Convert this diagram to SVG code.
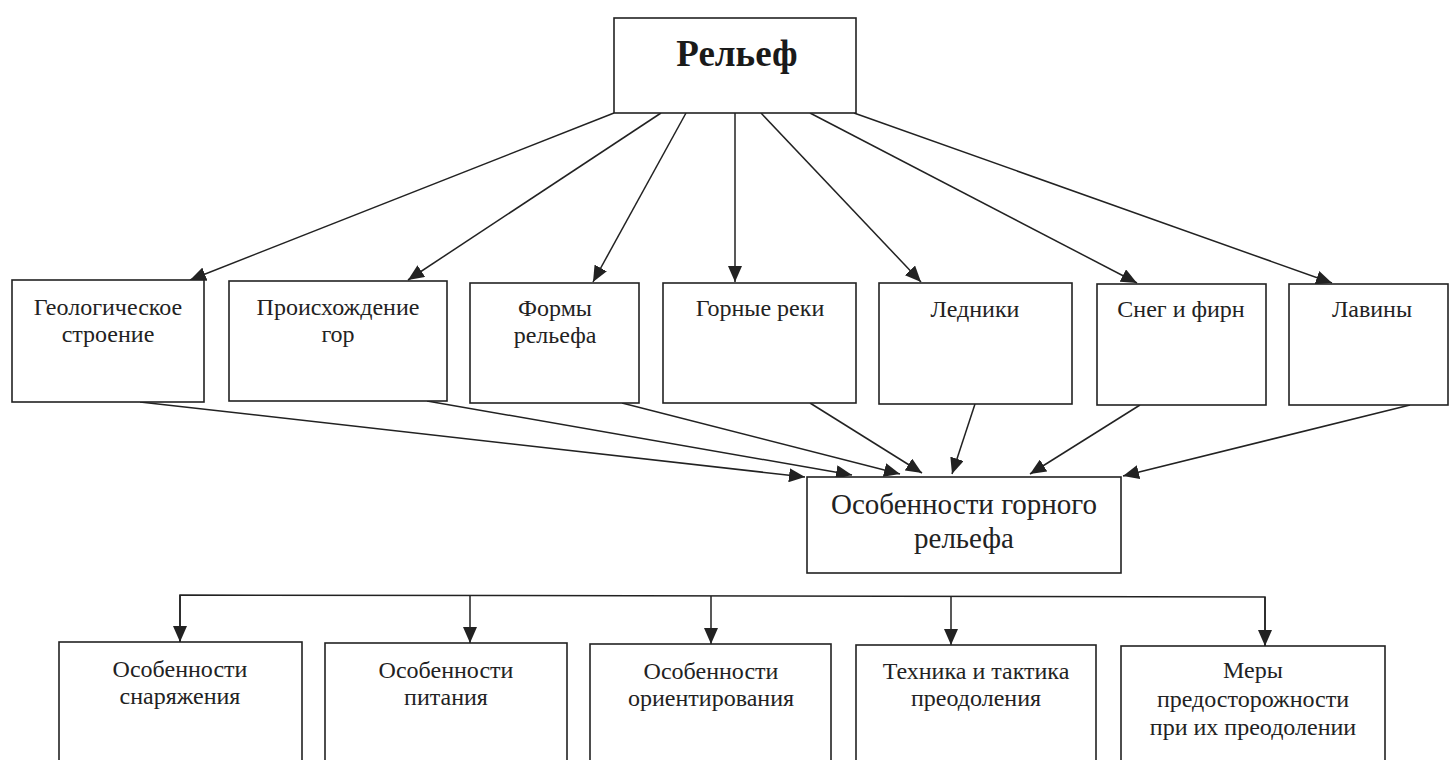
<svg xmlns="http://www.w3.org/2000/svg" width="1450" height="760" viewBox="0 0 1450 760">
<style>
.box{fill:#fff;stroke:#222;stroke-width:1.6}
.t{font-family:"Liberation Serif","Times New Roman",serif;font-size:24px;fill:#222;text-anchor:middle}
.tc{font-family:"Liberation Serif","Times New Roman",serif;font-size:29px;fill:#222;text-anchor:middle}
.tb{font-family:"Liberation Serif","Times New Roman",serif;font-size:37px;font-weight:bold;fill:#1a1a1a;text-anchor:middle}
.c{fill:none;stroke:#222;stroke-width:1.5}
</style>
<defs>
<marker id="ah" markerUnits="userSpaceOnUse" markerWidth="17" markerHeight="14" refX="16" refY="7" orient="auto">
<path d="M0,0 L16,7 L0,14 z" fill="#222"/>
</marker>
</defs>
<rect width="1450" height="760" fill="#fff"/>
<g id="connectors">
<line class="c" x1="614" y1="113" x2="190" y2="280" marker-end="url(#ah)"/>
<line class="c" x1="661" y1="113" x2="408" y2="280" marker-end="url(#ah)"/>
<line class="c" x1="686" y1="113" x2="593" y2="282" marker-end="url(#ah)"/>
<line class="c" x1="735" y1="113" x2="735" y2="282" marker-end="url(#ah)"/>
<line class="c" x1="761" y1="113" x2="921" y2="282" marker-end="url(#ah)"/>
<line class="c" x1="810" y1="113" x2="1137" y2="283" marker-end="url(#ah)"/>
<line class="c" x1="854" y1="113" x2="1332" y2="283" marker-end="url(#ah)"/>
<line class="c" x1="140" y1="402" x2="805" y2="477" marker-end="url(#ah)"/>
<line class="c" x1="427" y1="401" x2="852" y2="475" marker-end="url(#ah)"/>
<line class="c" x1="622" y1="403" x2="900" y2="474" marker-end="url(#ah)"/>
<line class="c" x1="810" y1="403" x2="922" y2="473" marker-end="url(#ah)"/>
<line class="c" x1="975" y1="404" x2="952" y2="474" marker-end="url(#ah)"/>
<line class="c" x1="1140" y1="405" x2="1030" y2="474" marker-end="url(#ah)"/>
<line class="c" x1="1410" y1="405" x2="1123" y2="476" marker-end="url(#ah)"/>
<polyline class="c" points="180,642 180,595 1265,597 1265,646"/>
<line class="c" x1="180" y1="595" x2="180" y2="642" marker-end="url(#ah)"/>
<line class="c" x1="470" y1="596" x2="470" y2="643" marker-end="url(#ah)"/>
<line class="c" x1="711" y1="596" x2="711" y2="644" marker-end="url(#ah)"/>
<line class="c" x1="951" y1="597" x2="951" y2="645" marker-end="url(#ah)"/>
<line class="c" x1="1265" y1="597" x2="1265" y2="646" marker-end="url(#ah)"/>
</g>
<g id="n-relief">
<rect class="box" x="614" y="18" width="242" height="95"/>
<text class="tb" x="737" y="66">Рельеф</text>
</g>
<g id="n-geo">
<rect class="box" x="12" y="280" width="192" height="122"/>
<text class="t" x="108" y="315">Геологическое</text>
<text class="t" x="108" y="342">строение</text>
</g>
<g id="n-orig">
<rect class="box" x="229" y="281" width="218" height="120"/>
<text class="t" x="338" y="315">Происхождение</text>
<text class="t" x="338" y="342">гор</text>
</g>
<g id="n-forms">
<rect class="box" x="470" y="283" width="169" height="120"/>
<text class="t" x="555" y="316">Формы</text>
<text class="t" x="555" y="343">рельефа</text>
</g>
<g id="n-rivers">
<rect class="box" x="663" y="283" width="193" height="120"/>
<text class="t" x="760" y="316">Горные реки</text>
</g>
<g id="n-glaciers">
<rect class="box" x="879" y="283" width="193" height="121"/>
<text class="t" x="975" y="317">Ледники</text>
</g>
<g id="n-snow">
<rect class="box" x="1097" y="284" width="169" height="121"/>
<text class="t" x="1181" y="317">Снег и фирн</text>
</g>
<g id="n-avalanche">
<rect class="box" x="1289" y="284" width="159" height="121"/>
<text class="t" x="1372" y="317">Лавины</text>
</g>
<g id="n-features">
<rect class="box" x="807" y="477" width="314" height="96"/>
<text class="tc" x="964" y="514">Особенности горного</text>
<text class="tc" x="964" y="548">рельефа</text>
</g>
<g id="n-equip">
<rect class="box" x="59" y="642" width="243" height="140"/>
<text class="t" x="180" y="677">Особенности</text>
<text class="t" x="180" y="704">снаряжения</text>
</g>
<g id="n-food">
<rect class="box" x="325" y="643" width="242" height="140"/>
<text class="t" x="446" y="678">Особенности</text>
<text class="t" x="446" y="705">питания</text>
</g>
<g id="n-orient">
<rect class="box" x="590" y="644" width="241" height="140"/>
<text class="t" x="711" y="679">Особенности</text>
<text class="t" x="711" y="706">ориентирования</text>
</g>
<g id="n-tech">
<rect class="box" x="856" y="645" width="240" height="140"/>
<text class="t" x="976" y="679">Техника и тактика</text>
<text class="t" x="976" y="706">преодоления</text>
</g>
<g id="n-safety">
<rect class="box" x="1121" y="646" width="264" height="140"/>
<text class="t" x="1253" y="678">Меры</text>
<text class="t" x="1253" y="707">предосторожности</text>
<text class="t" x="1253" y="735">при их преодолении</text>
</g>
</svg>
